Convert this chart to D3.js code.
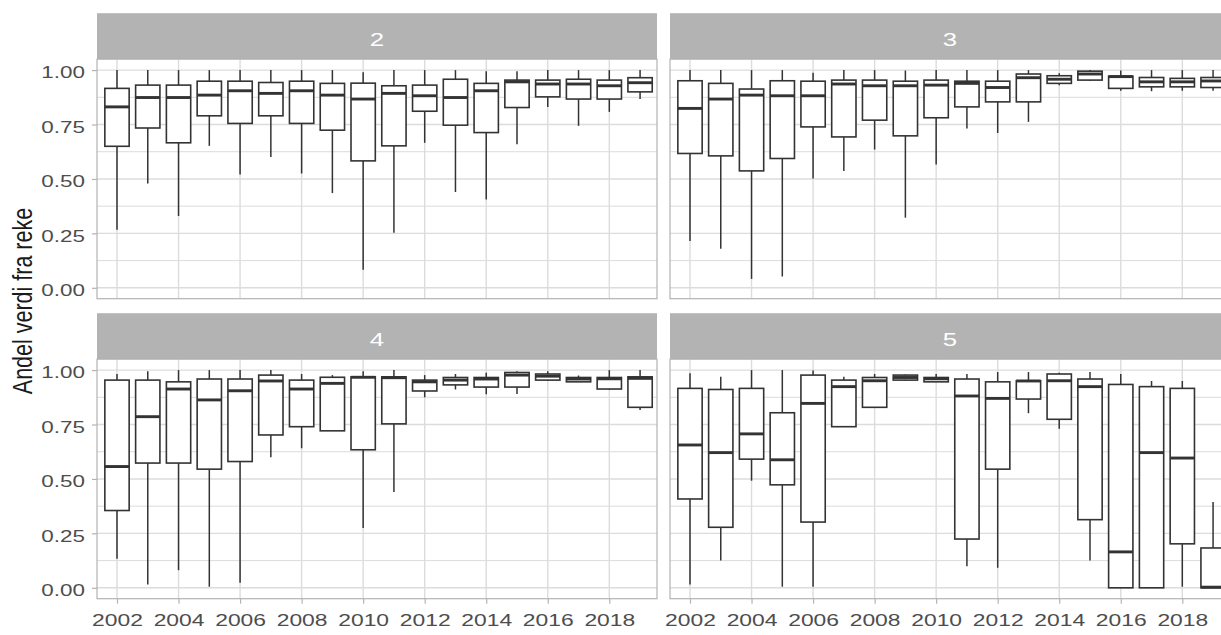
<!DOCTYPE html>
<html><head><meta charset="utf-8">
<script src="https://cdn.jsdelivr.net/npm/d3@7"></script>
<style>
body{margin:0;background:#fff;}
text{font-family:"Liberation Sans",Arial,sans-serif;}
</style>
</head><body>
<svg id="chart" width="1221" height="635"></svg>
<script>
// ---------- data ----------
const years = [2002,2003,2004,2005,2006,2007,2008,2009,2010,2011,2012,2013,2014,2015,2016,2017,2018,2019];
const yearTicks = [2002,2004,2006,2008,2010,2012,2014,2016,2018];
const yTicks = [0,0.25,0.5,0.75,1];
const yMinor = [0.125,0.375,0.625,0.875];
const facets = ["2","3","4","5"];

const p2_high = [1.0,1.0,1.0,1.0,1.0,1.0,1.0,1.0,0.99,1.0,1.0,1.0,0.995,0.995,1.0,1.0,1.0,1.0];
const p2_q3   = [0.916,0.931,0.931,0.949,0.949,0.943,0.949,0.939,0.940,0.928,0.931,0.958,0.939,0.954,0.954,0.958,0.954,0.965];
const p2_med  = [0.831,0.874,0.874,0.885,0.905,0.893,0.905,0.885,0.867,0.893,0.882,0.874,0.905,0.946,0.936,0.936,0.928,0.942];
const p2_q1   = [0.650,0.734,0.666,0.790,0.755,0.790,0.755,0.724,0.583,0.652,0.811,0.747,0.713,0.828,0.877,0.867,0.867,0.900];
const p2_low  = [0.267,0.479,0.330,0.652,0.521,0.601,0.525,0.435,0.083,0.253,0.666,0.440,0.406,0.659,0.831,0.744,0.808,0.867];

const p3_high = [1.0,1.0,1.0,1.0,0.988,1.0,1.0,0.998,1.0,1.0,1.0,1.0,0.985,1.0,0.998,1.0,1.0,1.0];
const p3_q3   = [0.951,0.939,0.913,0.951,0.949,0.954,0.954,0.949,0.954,0.949,0.949,0.982,0.974,0.995,0.972,0.966,0.962,0.966];
const p3_med  = [0.824,0.867,0.885,0.882,0.882,0.936,0.928,0.928,0.931,0.939,0.920,0.965,0.958,0.982,0.970,0.946,0.946,0.950];
const p3_q1   = [0.617,0.606,0.537,0.594,0.739,0.693,0.770,0.698,0.781,0.831,0.854,0.854,0.939,0.954,0.916,0.923,0.923,0.920];
const p3_low  = [0.215,0.179,0.041,0.052,0.502,0.537,0.635,0.322,0.566,0.732,0.711,0.762,0.930,0.950,0.905,0.903,0.905,0.905];

const p4_high = [0.982,0.995,1.0,1.0,1.0,1.0,0.982,0.977,0.995,1.0,0.977,0.982,0.988,0.995,0.995,0.975,1.0,1.0];
const p4_q3   = [0.954,0.954,0.946,0.959,0.959,0.977,0.954,0.967,0.969,0.969,0.954,0.966,0.966,0.989,0.982,0.966,0.966,0.969];
const p4_med  = [0.557,0.786,0.913,0.863,0.905,0.950,0.913,0.939,0.967,0.965,0.946,0.954,0.959,0.977,0.972,0.959,0.960,0.962];
const p4_q1   = [0.355,0.573,0.573,0.545,0.580,0.702,0.740,0.721,0.634,0.753,0.904,0.932,0.922,0.922,0.954,0.946,0.913,0.829];
const p4_low  = [0.133,0.015,0.081,0.005,0.023,0.600,0.641,0.721,0.275,0.440,0.875,0.911,0.889,0.890,0.950,0.945,0.910,0.817];

const p5_high = [0.985,0.969,1.0,1.0,0.998,0.969,0.982,0.980,0.982,0.982,0.991,0.991,0.988,0.991,0.982,0.950,0.950,0.394];
const p5_q3   = [0.916,0.911,0.916,0.804,0.977,0.954,0.966,0.977,0.966,0.959,0.946,0.951,0.982,0.959,0.934,0.924,0.916,0.183];
const p5_med  = [0.656,0.621,0.707,0.588,0.847,0.924,0.951,0.966,0.960,0.881,0.870,0.950,0.951,0.924,0.165,0.621,0.596,0.003];
const p5_q1   = [0.408,0.278,0.591,0.473,0.302,0.740,0.829,0.954,0.946,0.224,0.545,0.867,0.774,0.313,0.0,0.0,0.202,0.0];
const p5_low  = [0.015,0.125,0.492,0.005,0.005,0.740,0.829,0.950,0.946,0.099,0.092,0.802,0.730,0.126,0.0,0.0,0.005,0.0];

const yTitle = "Andel verdi fra reke";

// ---------- build ----------
const stats = {
  "2": [p2_low,p2_q1,p2_med,p2_q3,p2_high],
  "3": [p3_low,p3_q1,p3_med,p3_q3,p3_high],
  "4": [p4_low,p4_q1,p4_med,p4_q3,p4_high],
  "5": [p5_low,p5_q1,p5_med,p5_q3,p5_high]
};
function rows(key){
  const [lo,q1,md,q3,hi] = stats[key];
  return years.map((yr,i)=>({year:yr, low:lo[i], q1:q1[i], med:md[i], q3:q3[i], high:hi[i]}));
}

const W = 560, H = 239.5, STRIP = 46;
const layout = [
  {key:"2", x:97,  y:59.2, left:true,  bottom:false},
  {key:"3", x:670, y:59.2, left:false, bottom:false},
  {key:"4", x:97,  y:359.2, left:true, bottom:true},
  {key:"5", x:670, y:359.2, left:false, bottom:true}
];

const x = d3.scaleLinear().domain([2001.35, 2019.55]).range([0, W]);
const y = d3.scaleLinear().domain([-0.05, 1.05]).range([H, 0]);
const boxW = (x(2002.79) - x(2002));

const svg = d3.select("#chart");
svg.append("rect").attr("width",1221).attr("height",635).attr("fill","#fff");

const SX = 1.36;
const gridCol = "#dcdcdc", borderCol = "#b3b3b3", tickCol = "#b3b3b3", lineCol = "#333333";

layout.forEach(p => {
  const g = svg.append("g").attr("transform", `translate(${p.x},${p.y})`);
  // strip
  g.append("rect").attr("x",0).attr("y",-STRIP).attr("width",W).attr("height",STRIP).attr("fill","#b3b3b3");
  g.append("text").attr("transform",`translate(${W/2},${-STRIP+33}) scale(${SX},1)`)
    .attr("text-anchor","middle").attr("font-size",19).attr("fill","#ffffff").text(p.key);
  // panel background
  g.append("rect").attr("width",W).attr("height",H).attr("fill","#fff");
  // minor grid
  g.selectAll(".ymin").data(yMinor).enter().append("line")
    .attr("x1",0).attr("x2",W).attr("y1",d=>y(d)).attr("y2",d=>y(d))
    .attr("stroke",gridCol).attr("stroke-width",1.0);
  // major grid
  g.selectAll(".ymaj").data(yTicks).enter().append("line")
    .attr("x1",0).attr("x2",W).attr("y1",d=>y(d)).attr("y2",d=>y(d))
    .attr("stroke",gridCol).attr("stroke-width",1.4);
  g.selectAll(".xmaj").data(yearTicks).enter().append("line")
    .attr("x1",d=>x(d)).attr("x2",d=>x(d)).attr("y1",0).attr("y2",H)
    .attr("stroke",gridCol).attr("stroke-width",1.4);

  // boxplots
  const data = rows(p.key);
  const bg = g.selectAll(".box").data(data).enter().append("g");
  bg.append("line").attr("x1",d=>x(d.year)).attr("x2",d=>x(d.year))
    .attr("y1",d=>y(d.q3)).attr("y2",d=>y(d.high)).attr("stroke",lineCol).attr("stroke-width",1.5);
  bg.append("line").attr("x1",d=>x(d.year)).attr("x2",d=>x(d.year))
    .attr("y1",d=>y(d.q1)).attr("y2",d=>y(d.low)).attr("stroke",lineCol).attr("stroke-width",1.5);
  bg.append("rect").attr("x",d=>x(d.year)-boxW/2).attr("width",boxW)
    .attr("y",d=>y(d.q3)).attr("height",d=>Math.max(0.01,y(d.q1)-y(d.q3)))
    .attr("fill","#fff").attr("stroke",lineCol).attr("stroke-width",1.6);
  bg.append("line").attr("x1",d=>x(d.year)-boxW/2).attr("x2",d=>x(d.year)+boxW/2)
    .attr("y1",d=>y(d.med)).attr("y2",d=>y(d.med)).attr("stroke",lineCol).attr("stroke-width",2.9);

  // panel border
  g.append("rect").attr("width",W).attr("height",H).attr("fill","none")
    .attr("stroke",borderCol).attr("stroke-width",1.2);

  if (p.left) {
    const ax = g.append("g").call(d3.axisLeft(y).tickValues(yTicks).tickFormat(d3.format(".2f")).tickSize(5).tickPadding(7));
    ax.select(".domain").remove();
    ax.selectAll(".tick line").attr("stroke",tickCol).attr("stroke-width",1.2);
    ax.selectAll(".tick text").each(function(){
      const t = d3.select(this);
      const xx = +t.attr("x");
      t.attr("x", xx / SX).attr("y", 2.5).attr("transform",`scale(${SX},1)`);
    }).attr("font-size",16.5).attr("fill","#4d4d4d").attr("font-family","Liberation Sans, Arial, sans-serif");
  }
  if (p.bottom) {
    const ax = g.append("g").attr("transform",`translate(0,${H})`)
      .call(d3.axisBottom(x).tickValues(yearTicks).tickFormat(d3.format("d")).tickSize(5).tickPadding(10.5));
    ax.select(".domain").remove();
    ax.selectAll(".tick line").attr("stroke",tickCol).attr("stroke-width",1.2);
    ax.selectAll(".tick text").attr("transform",`scale(${SX},1)`)
      .attr("font-size",16.8).attr("fill","#4d4d4d").attr("font-family","Liberation Sans, Arial, sans-serif");
  }
});

// y title
svg.append("text").attr("transform","translate(32,301) rotate(-90) scale(1,1.28)")
  .attr("text-anchor","middle").attr("font-size",21.5).attr("fill","#1a1a1a").text(yTitle);
</script>
</body></html>
